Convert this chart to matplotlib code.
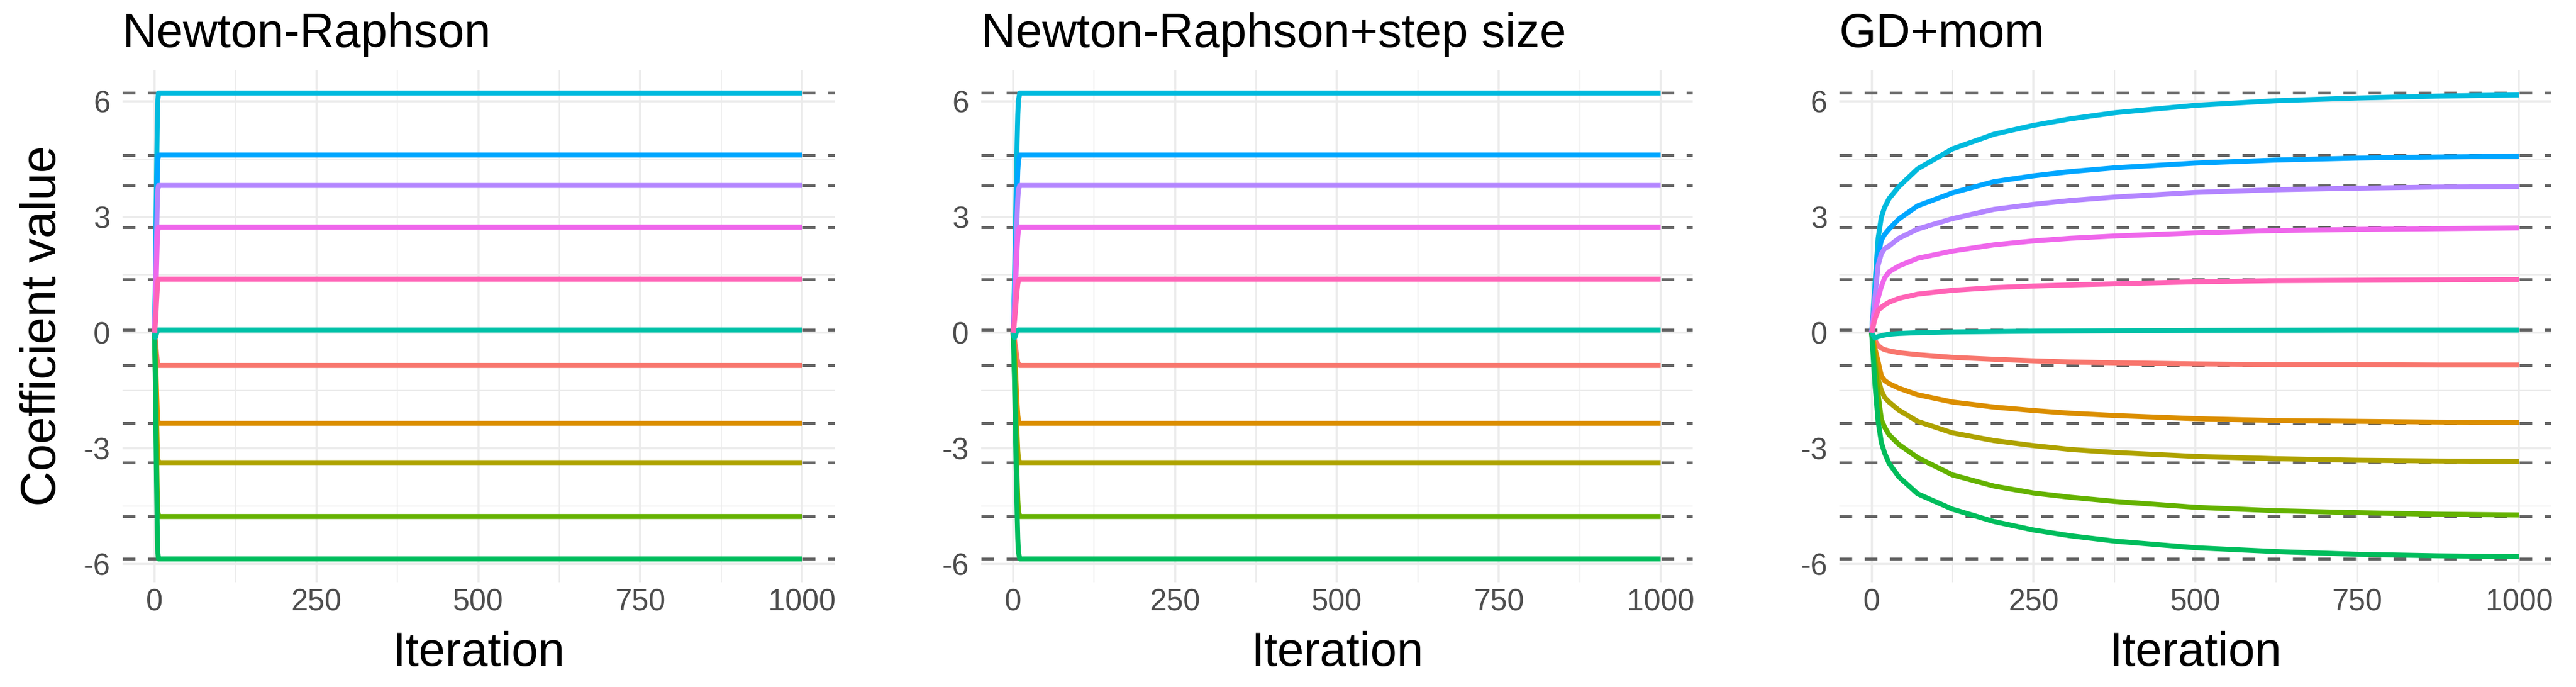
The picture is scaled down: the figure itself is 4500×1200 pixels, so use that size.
import matplotlib
matplotlib.use("Agg")
import matplotlib.pyplot as plt

plt.rcParams['font.family'] = ['Liberation Sans', 'DejaVu Sans']

# ---------------- data ----------------
panel_titles = ["Newton-Raphson", "Newton-Raphson+step size", "GD+mom"]
coef_colors = ["#F8766D", "#DB8E00", "#AEA200", "#64B200", "#00BD5C", "#00C1A7",
               "#00BADE", "#00A6FF", "#B385FF", "#EF67EB", "#FF63B6"]
true_values = [-0.85, -2.35, -3.37, -4.77, -5.87, 0.07, 6.22, 4.61, 3.82, 2.74, 1.39]

nr_iter = [0, 1, 2, 3, 4, 5, 6, 7, 1000]
nr_values = [
    [0, -0.15, -0.35, -0.55, -0.72, -0.82, -0.85, -0.85, -0.85],
    [0, -0.40, -0.95, -1.50, -2.00, -2.28, -2.35, -2.35, -2.35],
    [0, -0.60, -1.40, -2.20, -2.90, -3.28, -3.37, -3.37, -3.37],
    [0, -0.85, -1.95, -3.10, -4.10, -4.65, -4.77, -4.77, -4.77],
    [0, -1.05, -2.40, -3.80, -5.00, -5.72, -5.87, -5.87, -5.87],
    [0, -0.12, -0.09, -0.02, 0.04, 0.07, 0.07, 0.07, 0.07],
    [0, 1.10, 2.55, 4.00, 5.30, 6.05, 6.22, 6.22, 6.22],
    [0, 0.80, 1.90, 3.00, 3.95, 4.50, 4.61, 4.61, 4.61],
    [0, 0.65, 1.55, 2.45, 3.25, 3.72, 3.82, 3.82, 3.82],
    [0, 0.45, 1.05, 1.70, 2.30, 2.65, 2.74, 2.74, 2.74],
    [0, 0.20, 0.45, 0.80, 1.10, 1.32, 1.39, 1.39, 1.39],
]

nrs_iter = [0, 1, 2, 3, 4, 5, 6, 7, 8, 10, 1000]
nrs_values = [
    [0, -0.09, -0.19, -0.31, -0.43, -0.56, -0.68, -0.77, -0.82, -0.85, -0.85],
    [0, -0.24, -0.52, -0.85, -1.20, -1.55, -1.88, -2.14, -2.28, -2.35, -2.35],
    [0, -0.34, -0.74, -1.21, -1.72, -2.22, -2.70, -3.07, -3.27, -3.37, -3.37],
    [0, -0.48, -1.05, -1.72, -2.43, -3.15, -3.82, -4.34, -4.63, -4.77, -4.77],
    [0, -0.59, -1.29, -2.11, -2.99, -3.87, -4.70, -5.34, -5.69, -5.87, -5.87],
    [0, -0.10, -0.13, -0.10, -0.04, 0.02, 0.05, 0.06, 0.07, 0.07, 0.07],
    [0, 0.62, 1.37, 2.24, 3.17, 4.10, 4.98, 5.66, 6.03, 6.22, 6.22],
    [0, 0.46, 1.01, 1.66, 2.35, 3.04, 3.69, 4.20, 4.47, 4.61, 4.61],
    [0, 0.38, 0.84, 1.38, 1.95, 2.52, 3.06, 3.48, 3.71, 3.82, 3.82],
    [0, 0.27, 0.60, 0.99, 1.40, 1.81, 2.19, 2.49, 2.66, 2.74, 2.74],
    [0, 0.14, 0.31, 0.50, 0.71, 0.92, 1.11, 1.26, 1.35, 1.39, 1.39],
]

gd_iter = [0, 5, 10, 15, 20, 27, 42, 71, 125, 189, 250, 307, 377, 500, 625, 750, 875, 1000]
gd_values = [
    [0, -0.20, -0.33, -0.40, -0.44, -0.47, -0.52, -0.57, -0.64, -0.69, -0.73, -0.76, -0.78, -0.81, -0.83, -0.83, -0.84, -0.84],
    [0, -0.40, -0.75, -1.12, -1.24, -1.32, -1.44, -1.61, -1.80, -1.93, -2.02, -2.09, -2.15, -2.23, -2.28, -2.30, -2.32, -2.33],
    [0, -0.60, -1.20, -1.50, -1.68, -1.80, -2.01, -2.30, -2.60, -2.80, -2.93, -3.03, -3.11, -3.21, -3.27, -3.31, -3.33, -3.34],
    [0, -0.80, -1.60, -2.25, -2.45, -2.65, -2.90, -3.24, -3.69, -3.98, -4.16, -4.27, -4.38, -4.53, -4.62, -4.67, -4.71, -4.73],
    [0, -1.30, -2.30, -2.85, -3.12, -3.39, -3.74, -4.18, -4.58, -4.90, -5.12, -5.27, -5.41, -5.58, -5.68, -5.75, -5.79, -5.81],
    [0, -0.14, -0.10, -0.08, -0.06, -0.04, -0.02, 0.00, 0.02, 0.03, 0.04, 0.045, 0.05, 0.06, 0.065, 0.07, 0.07, 0.07],
    [0, 1.20, 2.45, 3.00, 3.25, 3.48, 3.79, 4.25, 4.77, 5.15, 5.38, 5.55, 5.71, 5.90, 6.02, 6.09, 6.14, 6.17],
    [0, 1.00, 2.00, 2.40, 2.55, 2.69, 2.95, 3.29, 3.63, 3.92, 4.07, 4.18, 4.28, 4.40, 4.48, 4.53, 4.56, 4.58],
    [0, 0.90, 1.75, 2.05, 2.18, 2.25, 2.45, 2.69, 2.96, 3.20, 3.33, 3.43, 3.52, 3.64, 3.71, 3.75, 3.78, 3.79],
    [0, 0.50, 0.90, 1.20, 1.42, 1.58, 1.73, 1.93, 2.12, 2.28, 2.38, 2.45, 2.51, 2.59, 2.65, 2.68, 2.70, 2.72],
    [0, 0.35, 0.58, 0.66, 0.72, 0.79, 0.89, 1.00, 1.10, 1.17, 1.21, 1.24, 1.27, 1.32, 1.35, 1.36, 1.37, 1.38],
]

x_breaks = [0, 250, 500, 750, 1000]
x_minor = [125, 375, 625, 875]
y_breaks = [-6, -3, 0, 3, 6]
y_minor = [-4.5, -1.5, 1.5, 4.5]

panels = [(nr_iter, nr_values), (nrs_iter, nrs_values), (gd_iter, gd_values)]

# ---------------- figure ----------------
W, H = 4500, 1200
fig = plt.figure(figsize=(15, 4), dpi=300)

lefts = [213.5, 1713.5, 3213.0]
ax_w = 1244.0
ax_top, ax_bot = 121.7, 1017.0

for p, (left, title, (iters, vals)) in enumerate(zip(lefts, panel_titles, panels)):
    ax = fig.add_axes([left / W, 1 - ax_bot / H, ax_w / W, (ax_bot - ax_top) / H])
    ax.set_xlim(-50, 1050)
    ax.set_ylim(-6.475, 6.825)
    for s in ax.spines.values():
        s.set_visible(False)
    ax.set_xticks(x_breaks)
    ax.set_xticks(x_minor, minor=True)
    ax.set_yticks(y_breaks)
    ax.set_yticks(y_minor, minor=True)
    ax.set_xticklabels([str(v) for v in x_breaks])
    ax.set_yticklabels([str(v) for v in y_breaks])
    ax.tick_params(which='both', length=0)
    ax.tick_params(axis='x', pad=2.5, labelsize=12.7, labelcolor='#4D4D4D')
    ax.tick_params(axis='y', pad=5, labelsize=12.7, labelcolor='#4D4D4D')
    ax.grid(which='major', color='#EBEBEB', linewidth=0.85)
    ax.grid(which='minor', color='#EBEBEB', linewidth=0.45)
    ax.set_axisbelow(True)

    for tv in true_values:
        ax.axhline(tv, color='#666666', linewidth=1.2, linestyle=(0, (4.4, 4.4)), zorder=2)

    for c, series in zip(coef_colors, vals):
        ax.plot(iters, series, color=c, linewidth=2.1, zorder=3,
                solid_joinstyle='round', solid_capstyle='butt')

    ax.text(0.0, 1 + 40 / (ax_bot - ax_top), title, transform=ax.transAxes,
            ha='left', va='baseline', fontsize=20, color='black')

    fig.text((left + ax_w / 2) / W, 1 - 1163 / H, "Iteration", ha='center',
             va='baseline', fontsize=20, color='black')

fig.text(75 / W, 1 - 569 / H, "Coefficient value", rotation=90, ha='center',
         va='center', fontsize=20.5, color='black')

fig.savefig("out.png", dpi=300, facecolor='white')
